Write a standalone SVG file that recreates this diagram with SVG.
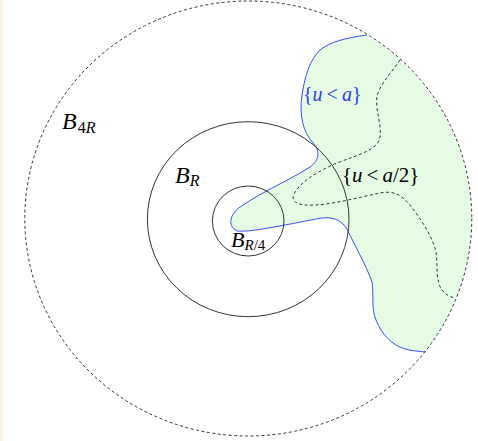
<svg xmlns="http://www.w3.org/2000/svg" width="478" height="441" viewBox="0 0 478 441">
<style>
.ball{fill:none;stroke:#333;stroke-width:1}
.dash{fill:none;stroke:#333;stroke-width:1;stroke-dasharray:3,2.5}
.lbl{font-family:"Liberation Serif","Times New Roman",serif;fill:#000}
.it{font-style:italic}
</style>
<rect x="0" y="0" width="478" height="441" fill="#fff"/>
<rect x="0" y="0" width="3" height="441" fill="#fdf5ea"/>
<g id="region-u-lt-a">
<path d="M367,35 C345,38 330,42 320,50 C310,60 305,75 302,95 C299,115 303,132 313,143 C320,150 320,160 310,167 C290,180 265,190 240,207 C230,214 227,226 237,231 C250,232 270,228 316,219 C330,216 340,218 347,229 C354,244 366,265 372,282 C374,295 371,308 376,320 C382,335 392,345 405,349 C412,351 418,351 425,352 A223.5,217.5 0 0 0 367,35 Z" fill="#e5fbe4" stroke="none"/>
<path d="M367,35 C345,38 330,42 320,50 C310,60 305,75 302,95 C299,115 303,132 313,143 C320,150 320,160 310,167 C290,180 265,190 240,207 C230,214 227,226 237,231 C250,232 270,228 316,219 C330,216 340,218 347,229 C354,244 366,265 372,282 C374,295 371,308 376,320 C382,335 392,345 405,349 C412,351 418,351 425,352" fill="none" stroke="#3b4cf5" stroke-width="1"/>
</g>
<g id="connectors">
<path id="level-a2" class="dash" d="M400,60 C392,72 380,84 377,96 C375,110 382,125 380,137 C378,150 360,154 337,163 C318,171 300,182 294,194 C290,203 300,206 315,205 C335,204 360,197 380,193 C395,190 402,196 410,205 C420,218 432,235 436,252 C438,265 435,280 442,290 C446,295 450,297 455,298"/>
</g>
<g id="B4R">
<ellipse class="dash" cx="248.3" cy="218.5" rx="223.5" ry="217.5"/>
<text class="lbl" x="62" y="129" font-size="24"><tspan class="it">B</tspan><tspan font-size="16" dy="4" dx="1">4</tspan><tspan class="it" font-size="16">R</tspan></text>
</g>
<g id="BR">
<ellipse class="ball" cx="248.2" cy="219.2" rx="100.8" ry="97.5"/>
<text class="lbl" x="175" y="183" font-size="24"><tspan class="it">B</tspan><tspan class="it" font-size="16" dy="3">R</tspan></text>
</g>
<g id="BR4">
<ellipse class="ball" cx="248.2" cy="221" rx="35.8" ry="35"/>
<text class="lbl" x="231" y="247" font-size="22"><tspan class="it">B</tspan><tspan class="it" font-size="15" dy="3">R</tspan><tspan font-size="15">/4</tspan></text>
</g>
<g id="label-u-lt-a">
<text class="lbl" x="303" y="101" font-size="20" style="fill:#2b3cf0"><tspan>{</tspan><tspan class="it">u</tspan><tspan dx="4">&lt;</tspan><tspan class="it" dx="4">a</tspan><tspan>}</tspan></text>
</g>
<g id="label-u-lt-a2">
<text class="lbl" x="342" y="182" font-size="21"><tspan>{</tspan><tspan class="it">u</tspan><tspan dx="4">&lt;</tspan><tspan class="it" dx="4">a</tspan><tspan>/2}</tspan></text>
</g>
</svg>
